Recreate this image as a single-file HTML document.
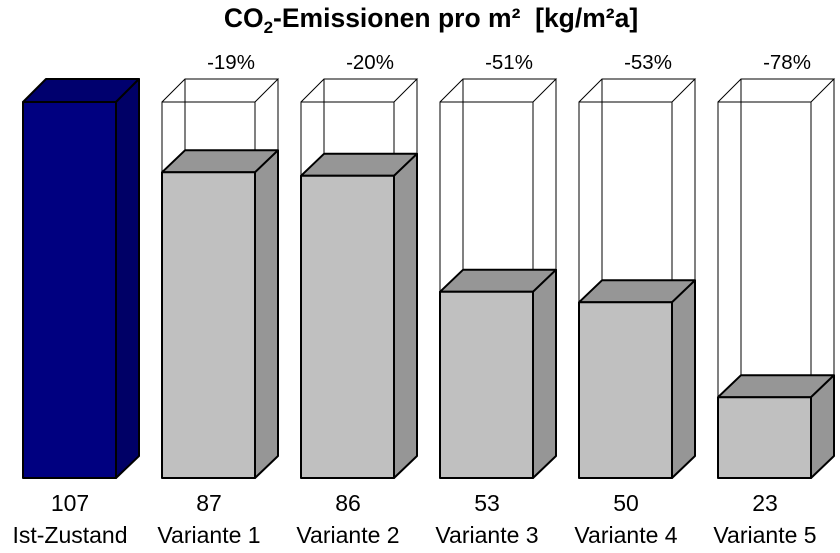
<!DOCTYPE html>
<html><head><meta charset="utf-8"><style>
body{margin:0;background:#fff;}
svg{display:block;font-family:"Liberation Sans",Arial,sans-serif;}
</style></head><body>
<svg width="840" height="553" viewBox="0 0 840 553">
<text x="431" y="27" font-size="26.5" font-weight="bold" text-anchor="middle">CO<tspan font-size="17" dy="6">2</tspan><tspan dy="-6">-Emissionen pro m² &#160;[kg/m²a]</tspan></text>
<g stroke="#000" stroke-width="2" stroke-linejoin="round">
<polygon points="23,102 46,79 139,79 116,102" fill="#00006e"/>
<polygon points="116,102 139,79 139,456 116,478" fill="#000066"/>
<rect x="23" y="102" width="93" height="376" fill="#000080"/>
</g>
<g fill="none" stroke="#000" stroke-width="1">
<rect x="162" y="102" width="93" height="70.3"/><polyline points="162,102 185,79 278,79 255,102"/><line x1="278" y1="79" x2="278" y2="150.3"/><line x1="185" y1="79" x2="185" y2="150.3"/>
<rect x="301" y="102" width="93" height="73.8"/><polyline points="301,102 324,79 417,79 394,102"/><line x1="417" y1="79" x2="417" y2="153.8"/><line x1="324" y1="79" x2="324" y2="153.8"/>
<rect x="440" y="102" width="93" height="189.8"/><polyline points="440,102 463,79 556,79 533,102"/><line x1="556" y1="79" x2="556" y2="269.8"/><line x1="463" y1="79" x2="463" y2="269.8"/>
<rect x="579" y="102" width="93" height="200.3"/><polyline points="579,102 602,79 695,79 672,102"/><line x1="695" y1="79" x2="695" y2="280.3"/><line x1="602" y1="79" x2="602" y2="280.3"/>
<rect x="718" y="102" width="93" height="295.2"/><polyline points="718,102 741,79 834,79 811,102"/><line x1="834" y1="79" x2="834" y2="375.2"/><line x1="741" y1="79" x2="741" y2="375.2"/>
</g>
<g stroke="#000" stroke-width="2" stroke-linejoin="round">
<polygon points="162,172.3 185,150.3 278,150.3 255,172.3" fill="#969696"/><polygon points="255,172.3 278,150.3 278,456 255,478" fill="#969696"/><rect x="162" y="172.3" width="93" height="305.7" fill="#c0c0c0"/>
<polygon points="301,175.8 324,153.8 417,153.8 394,175.8" fill="#969696"/><polygon points="394,175.8 417,153.8 417,456 394,478" fill="#969696"/><rect x="301" y="175.8" width="93" height="302.2" fill="#c0c0c0"/>
<polygon points="440,291.8 463,269.8 556,269.8 533,291.8" fill="#969696"/><polygon points="533,291.8 556,269.8 556,456 533,478" fill="#969696"/><rect x="440" y="291.8" width="93" height="186.2" fill="#c0c0c0"/>
<polygon points="579,302.3 602,280.3 695,280.3 672,302.3" fill="#969696"/><polygon points="672,302.3 695,280.3 695,456 672,478" fill="#969696"/><rect x="579" y="302.3" width="93" height="175.7" fill="#c0c0c0"/>
<polygon points="718,397.2 741,375.2 834,375.2 811,397.2" fill="#969696"/><polygon points="811,397.2 834,375.2 834,456 811,478" fill="#969696"/><rect x="718" y="397.2" width="93" height="80.8" fill="#c0c0c0"/>
</g>
<g font-size="20.5" text-anchor="middle">
<text x="231" y="69">-19%</text><text x="370" y="69">-20%</text><text x="509" y="69">-51%</text><text x="648" y="69">-53%</text><text x="787" y="69">-78%</text>
</g>
<g font-size="23" text-anchor="middle">
<text x="70" y="511">107</text><text x="209" y="511">87</text><text x="348" y="511">86</text><text x="487" y="511">53</text><text x="626" y="511">50</text><text x="765" y="511">23</text>
<text x="70" y="543">Ist-Zustand</text><text x="209" y="543">Variante 1</text><text x="348" y="543">Variante 2</text><text x="487" y="543">Variante 3</text><text x="626" y="543">Variante 4</text><text x="765" y="543">Variante 5</text>
</g>
</svg>
</body></html>
